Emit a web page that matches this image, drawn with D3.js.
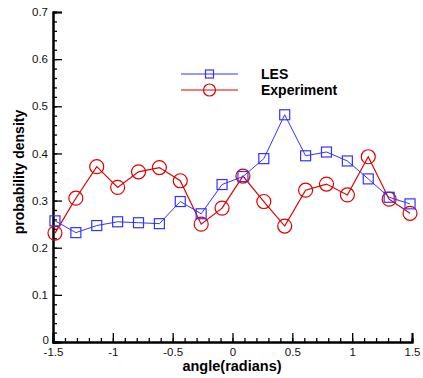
<!DOCTYPE html>
<html>
<head>
<meta charset="utf-8">
<script src="https://cdn.jsdelivr.net/npm/d3@7"></script>
<style>
body { margin: 0; background: #fff; }
svg { font-family: "Liberation Sans", Arial, sans-serif; }
</style>
</head>
<body>
<div id="grafic"></div>
<script>
const angles = d3.range(18).map(i => (-85 + i * 10) * Math.PI / 180);
const les = [0.257, 0.232, 0.247, 0.255, 0.253, 0.251, 0.298, 0.272, 0.334,
	0.351, 0.389, 0.482, 0.395, 0.403, 0.384, 0.346, 0.307, 0.293];
const experiment = [0.231, 0.305, 0.372, 0.328, 0.361, 0.370, 0.342, 0.250, 0.284,
	0.352, 0.298, 0.246, 0.322, 0.335, 0.312, 0.393, 0.303, 0.273];
const xTicks = [-1.5, -1, -0.5, 0, 0.5, 1, 1.5];
const yTicks = [0, 0.1, 0.2, 0.3, 0.4, 0.5, 0.6, 0.7];

const W = 423, H = 378;
const x = d3.scaleLinear().domain([-1.5, 1.5]).range([53, 412]);
const y = d3.scaleLinear().domain([0, 0.7]).range([342, 12]);

const svg = d3.select("#grafic").append("svg")
	.attr("width", W).attr("height", H);

const blau = "#3333ff", vermell = "#dd0000";

// eixos
const eixX = svg.append("g").attr("transform", `translate(0,${y(0)})`);
eixX.call(d3.axisBottom(x).tickValues(d3.range(-1.5, 1.5001, 0.1)).tickSize(-4).tickFormat(""));
eixX.call(g => g.append("g").call(d3.axisBottom(x).tickValues(xTicks).tickSize(-9)
	.tickFormat(d => d === 0 ? "0" : String(d))));
const eixY = svg.append("g").attr("transform", `translate(${x(-1.5)},0)`);
eixY.call(d3.axisLeft(y).tickValues(d3.range(0, 0.7001, 0.02)).tickSize(-4).tickFormat(""));
eixY.call(g => g.append("g").call(d3.axisLeft(y).tickValues(yTicks).tickSize(-9)
	.tickFormat(d => d === 0 ? "0" : d3.format(".1f")(d))));
svg.selectAll(".domain").attr("stroke", "#000").attr("stroke-width", 2);
svg.selectAll(".tick line").attr("stroke", "#000").attr("stroke-width", 1.3);
svg.selectAll(".tick text").attr("font-size", 11.5).attr("fill", "#111")
	.attr("font-family", "Liberation Sans, Arial, sans-serif");
eixX.selectAll(".tick text").attr("y", 6).attr("dy", "0.71em");
eixY.selectAll(".tick text").attr("x", -5);
eixY.selectAll(".tick text").filter(d => d === 0).attr("dy", "0.1em").attr("x", -4);

// títols
svg.append("text").attr("x", 232).attr("y", 371).attr("text-anchor", "middle")
	.attr("font-size", 14.5).attr("font-weight", "bold").text("angle(radians)");
svg.append("text").attr("transform", "translate(24,172) rotate(-90)")
	.attr("text-anchor", "middle").attr("font-size", 14).attr("font-weight", "bold")
	.text("probability density");

// sèries
const línia = d3.line().x((d, i) => x(angles[i])).y(d => y(d));
svg.append("path").datum(experiment).attr("d", línia)
	.attr("fill", "none").attr("stroke", vermell).attr("stroke-width", 1.2);
svg.append("path").datum(les).attr("d", línia)
	.attr("fill", "none").attr("stroke", blau).attr("stroke-width", 1);

svg.append("g").selectAll("circle").data(experiment).join("circle")
	.attr("cx", (d, i) => x(angles[i])).attr("cy", d => y(d)).attr("r", 7)
	.attr("fill", "none").attr("stroke", vermell).attr("stroke-width", 1.2);
svg.append("g").selectAll("rect").data(les).join("rect")
	.attr("x", (d, i) => x(angles[i]) - 5).attr("y", d => y(d) - 5)
	.attr("width", 10).attr("height", 10)
	.attr("fill", "none").attr("stroke", blau).attr("stroke-width", 1.2);

// llegenda
const lleg = svg.append("g");
lleg.append("line").attr("x1", 181).attr("x2", 238).attr("y1", 74).attr("y2", 74)
	.attr("stroke", blau);
lleg.append("rect").attr("x", 205.5).attr("y", 70).attr("width", 8).attr("height", 8)
	.attr("fill", "none").attr("stroke", blau).attr("stroke-width", 1.2);
lleg.append("line").attr("x1", 181).attr("x2", 238).attr("y1", 90).attr("y2", 90)
	.attr("stroke", vermell);
lleg.append("circle").attr("cx", 209.5).attr("cy", 90).attr("r", 6)
	.attr("fill", "none").attr("stroke", vermell).attr("stroke-width", 1.2);
lleg.append("text").attr("x", 261).attr("y", 79).attr("font-size", 14)
	.attr("font-weight", "bold").text("LES");
lleg.append("text").attr("x", 261).attr("y", 95).attr("font-size", 14)
	.attr("font-weight", "bold").text("Experiment");
</script>
</body>
</html>
